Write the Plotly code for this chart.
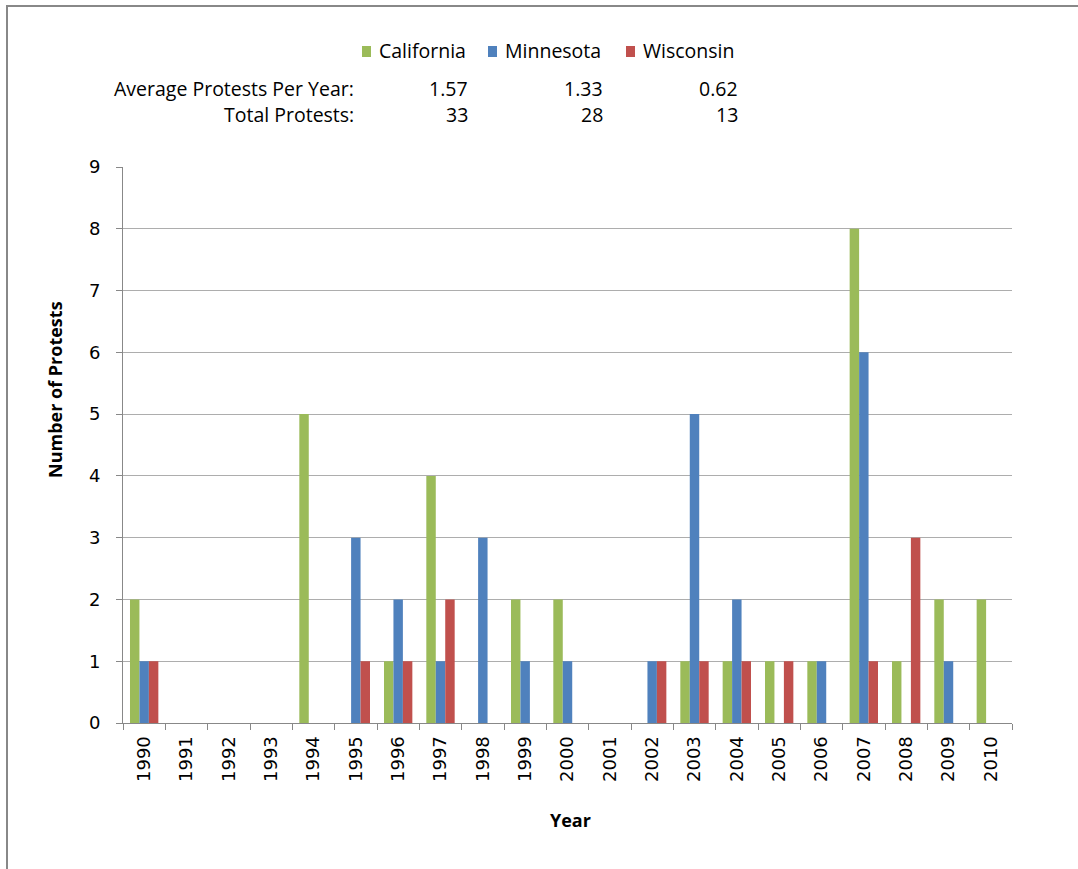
import plotly.graph_objects as go

years = [str(y) for y in range(1990, 2011)]
california = [2, 0, 0, 0, 5, 0, 1, 4, 0, 2, 2, 0, 0, 1, 1, 1, 1, 8, 1, 2, 2]
minnesota = [1, 0, 0, 0, 0, 3, 2, 1, 3, 1, 1, 0, 1, 5, 2, 0, 1, 6, 0, 1, 0]
wisconsin = [1, 0, 0, 0, 0, 1, 1, 2, 0, 0, 0, 0, 1, 1, 1, 1, 0, 1, 3, 0, 0]

series_names = ["California", "Minnesota", "Wisconsin"]
series_colors = ["#9BBB59", "#4F81BD", "#C0504D"]
avg_per_year = ["1.57", "1.33", "0.62"]
totals = ["33", "28", "13"]

W, H = 1078, 869
L, R, T, B = 123, 66, 167, 146
pw, ph = W - L - R, H - T - B


def px(x):
    return (x - L) / pw


def py(y):
    return (H - B - y) / ph


text_font = "'Open Sans', Lato, sans-serif"
tick_font = "'DejaVu Sans', Verdana, sans-serif"
text_size = 19.5

fig = go.Figure()
for name, vals, col in zip(series_names, [california, minnesota, wisconsin], series_colors):
    fig.add_trace(go.Bar(name=name, x=years, y=vals, showlegend=False,
                         marker=dict(color=col, line=dict(width=0))))

annotations = []
shapes = []

# legend row: colour swatch followed by the series name
legend_swatch_left = [362, 488, 626]
for name, col, x0 in zip(series_names, series_colors, legend_swatch_left):
    shapes.append(dict(type="rect", xref="paper", yref="paper",
                       x0=px(x0), x1=px(x0 + 9), y0=py(57), y1=py(46),
                       fillcolor=col, line=dict(width=0)))
    annotations.append(dict(x=px(x0 + 15), y=py(51), xref="paper", yref="paper", text=name,
                            showarrow=False, xanchor="left", yanchor="middle",
                            font=dict(family=text_font, size=text_size, color="#000")))

# summary rows above the plot
rows = [("Average Protests Per Year:", avg_per_year, 88), ("Total Protests:", totals, 115)]
value_right_edges = [470, 605, 740]
for label, vals, ypix in rows:
    annotations.append(dict(x=px(356), y=py(ypix), xref="paper", yref="paper", text=label,
                            showarrow=False, xanchor="right", yanchor="middle",
                            font=dict(family=text_font, size=text_size, color="#000")))
    for v, xr in zip(vals, value_right_edges):
        annotations.append(dict(x=px(xr), y=py(ypix), xref="paper", yref="paper", text=v,
                                showarrow=False, xanchor="right", yanchor="middle",
                                font=dict(family=text_font, size=text_size, color="#000")))

# axis titles
annotations.append(dict(x=px(55), y=py(390), xref="paper", yref="paper",
                        text="<b>Number of Protests</b>", textangle=-90, showarrow=False,
                        xanchor="center", yanchor="middle",
                        font=dict(family=text_font, size=18, color="#000")))
annotations.append(dict(x=px(570), y=py(820), xref="paper", yref="paper",
                        text="<b>Year</b>", showarrow=False,
                        xanchor="center", yanchor="middle",
                        font=dict(family=text_font, size=18, color="#000")))

# outer chart frame
shapes.append(dict(type="rect", xref="paper", yref="paper", x0=px(7), x1=px(1095),
                   y0=py(6), y1=py(900), line=dict(color="#888888", width=2), layer="below"))

fig.update_layout(
    width=W, height=H,
    margin=dict(l=L, r=R, t=T, b=B),
    paper_bgcolor="white", plot_bgcolor="white",
    barmode="group", bargap=0.33, bargroupgap=0,
    showlegend=False,
    annotations=annotations,
    shapes=shapes,
    xaxis=dict(
        type="category", tickangle=-90, showline=True, linecolor="#888888", linewidth=1,
        ticks="outside", tickson="boundaries", ticklen=6, tickcolor="#888888",
        tickfont=dict(family=tick_font, size=18, color="#000"), ticklabelstandoff=5,
        showgrid=False,
    ),
    yaxis=dict(
        range=[0, 9], dtick=1, showline=True, linecolor="#888888", linewidth=1,
        ticks="outside", ticklen=6, tickcolor="#888888",
        tickfont=dict(family=tick_font, size=18, color="#000"), ticklabelstandoff=12,
        showgrid=True, gridcolor="#ADADAD", gridwidth=1, zeroline=False,
    ),
)

fig.write_html("out.html")
